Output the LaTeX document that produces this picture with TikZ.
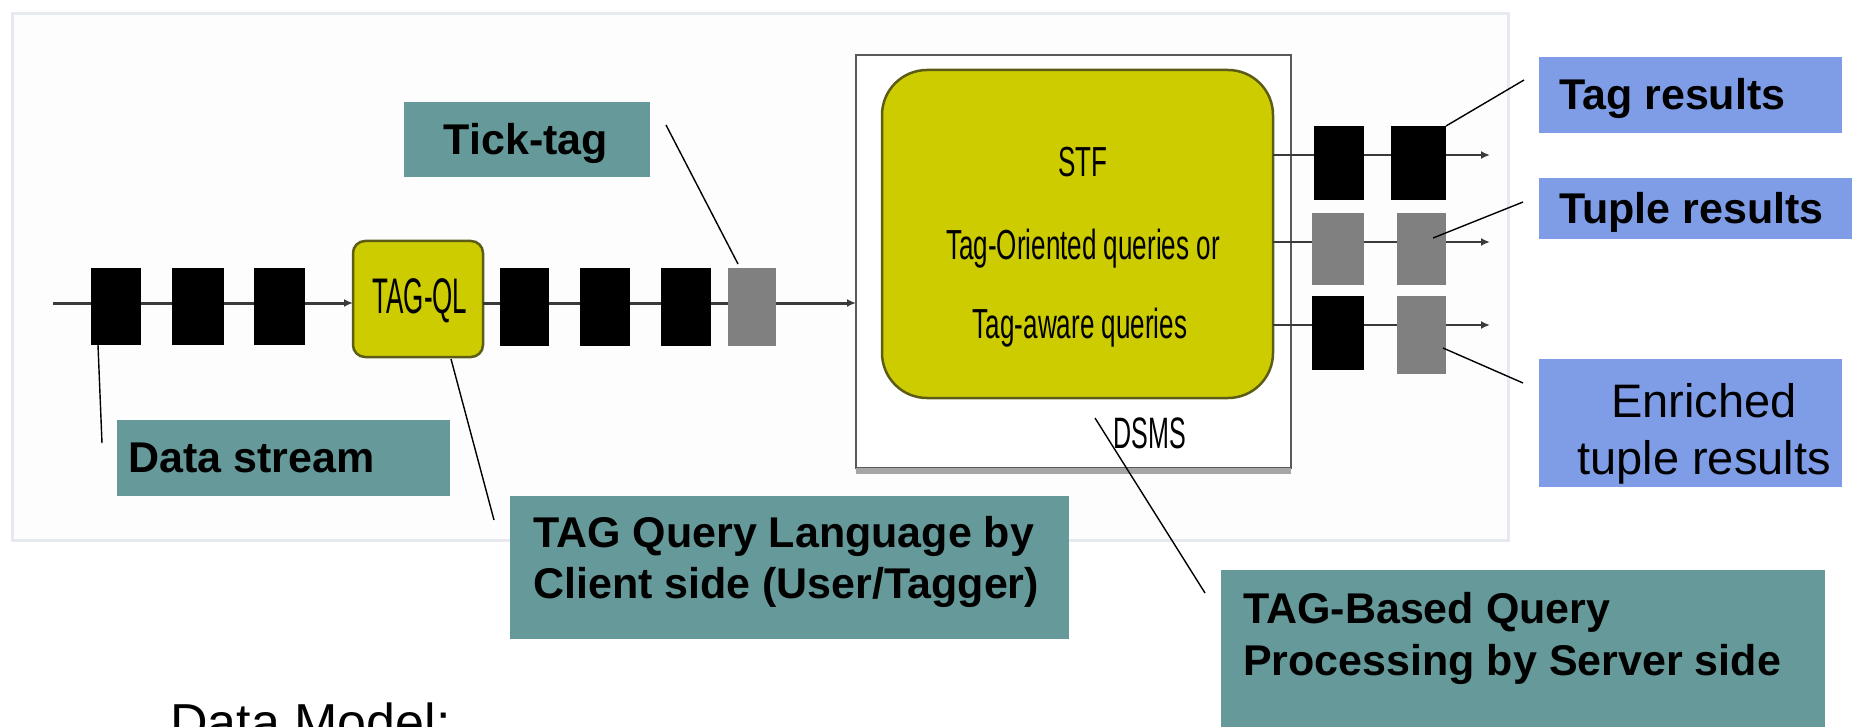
\documentclass[tikz,border=0pt]{standalone}
\usepackage{fontspec}
\setmainfont{Liberation Sans}
\usepackage{graphicx}
\usetikzlibrary{arrows.meta,calc}
\definecolor{tealbox}{HTML}{669999}
\definecolor{bluebox}{HTML}{7F9DE6}
\definecolor{yel}{HTML}{CCCC00}
\definecolor{olivedark}{HTML}{5C5C14}
\definecolor{pktgray}{HTML}{808080}
\definecolor{panelfill}{HTML}{FDFDFE}
\definecolor{paneledge}{HTML}{E6EAF0}
\definecolor{streamcol}{HTML}{3A3A3A}
\newcommand\rbox[6]{\node[#6, minimum width={#4-#2}, minimum height={#5-#3}] (#1) at ({(#2+#4)/2},{(#3+#5)/2}) {};}
\begin{document}
\begin{tikzpicture}[x=1pt,y=-1pt,
  plain/.style={rectangle, inner sep=0pt, outer sep=0pt},
  blackpkt/.style={plain, fill=black},
  graypkt/.style={plain, fill=pktgray},
  tealrect/.style={plain, fill=tealbox},
  bluerect/.style={plain, fill=bluebox},
  yelbox/.style={plain, fill=yel, draw=olivedark, line width=2.5pt},
  streamline/.style={draw=streamcol, line width=3pt, -{Latex[length=9pt,width=8pt]}},
  pointer/.style={draw=black, line width=1.4pt},
  lbl/.style={inner sep=0pt, font=\fontsize{43}{51}\selectfont\bfseries, anchor=base west},
  narrowtxt/.style={inner sep=0pt, anchor=base},
]
\useasboundingbox (0,0) rectangle (1852,727);
\clip (0,0) rectangle (1852,727);
% background panel
\rbox{panel}{12}{14}{1508}{540}{plain, fill=panelfill, draw=paneledge, line width=3pt}
% DSMS box
\rbox{dsms}{856}{55}{1291}{468}{plain, fill=white, draw=black!65, line width=1.8pt}
\draw[line width=6pt, draw=black!35] ($(dsms.south west)+(0,3)$) -- ($(dsms.south east)+(0,3)$);
% stream
\coordinate (s0) at (53,303);
\rbox{ql}{353}{241}{483}{357}{yelbox, rounded corners=12pt}
\draw[streamline] (s0) -- (s0 -| ql.west);
\draw[streamline] (s0 -| ql.east) -- (s0 -| dsms.west);
\node[narrowtxt] (qltxt) at (420,313) {\fontsize{50}{50}\selectfont\scalebox{0.52}[1]{TAG-QL}};
% packets
\rbox{p1}{91}{268}{141}{345}{blackpkt}
\rbox{p2}{172}{268}{224}{345}{blackpkt}
\rbox{p3}{254}{268}{305}{345}{blackpkt}
\rbox{p4}{500}{268}{549}{346}{blackpkt}
\rbox{p5}{580}{268}{630}{346}{blackpkt}
\rbox{p6}{661}{268}{711}{346}{blackpkt}
\rbox{g1}{728}{268}{776}{346}{graypkt}
% STF box
\rbox{stf}{882}{70}{1273}{398}{yelbox, rounded corners=45pt}
\node[narrowtxt] (stf1) at (1083,177) {\fontsize{42}{42}\selectfont\scalebox{0.62}[1]{STF}};
\node[narrowtxt] (stf2) at (1083,260) {\fontsize{42}{42}\selectfont\scalebox{0.62}[1]{Tag-Oriented queries or}};
\node[narrowtxt] (stf3) at (1080,338) {\fontsize{42}{42}\selectfont\scalebox{0.62}[1]{Tag-aware queries}};
\node[narrowtxt] (dsmstxt) at (1150,448) {\fontsize{44}{44}\selectfont\scalebox{0.57}[1]{DSMS}};
% output lines
\coordinate (o1) at (1490,155);
\coordinate (o2) at (1490,242);
\coordinate (o3) at (1490,325);
\draw[streamline, line width=2.5pt] (o1 -| stf.east) -- (o1);
\draw[streamline, line width=2.5pt] (o2 -| stf.east) -- (o2);
\draw[streamline, line width=2.5pt] (o3 -| stf.east) -- (o3);
\rbox{r1a}{1314}{126}{1364}{200}{blackpkt}
\rbox{r1b}{1391}{126}{1446}{200}{blackpkt}
\rbox{r2a}{1312}{213}{1364}{285}{graypkt}
\rbox{r2b}{1397}{213}{1446}{285}{graypkt}
\rbox{r3a}{1312}{296}{1364}{370}{blackpkt}
\rbox{r3b}{1397}{296}{1446}{374}{graypkt}
% labels
\rbox{tickbox}{404}{102}{650}{177}{tealrect}
\node[lbl, anchor=base] (ticktxt) at (526,155) {Tick-tag};
\rbox{dsbox}{117}{420}{450}{496}{tealrect}
\node[lbl] (dstxt) at (128,472) {Data stream};
\rbox{qlbox}{510}{496}{1069}{639}{tealrect}
\node[lbl] (qlt1) at (533,547) {TAG Query Language by};
\node[lbl] (qlt2) at (533,598) {Client side (User/Tagger)};
\rbox{tbbox}{1221}{570}{1825}{727}{tealrect}
\node[lbl] (tbt1) at (1243,623) {TAG-Based Query};
\node[lbl] (tbt2) at (1243,675) {Processing by Server side};
\rbox{tagbox}{1539}{57}{1842}{133}{bluerect}
\node[lbl] (tagtxt) at (1559,110) {Tag results};
\rbox{tuplebox}{1539}{178}{1870}{239}{bluerect}
\node[lbl] (tupletxt) at (1559,224) {Tuple results};
\rbox{enbox}{1539}{359}{1842}{487}{bluerect}
\node[inner sep=0pt, anchor=base, font=\fontsize{47}{47}\selectfont] (en1) at (1704,417) {Enriched};
\node[inner sep=0pt, anchor=base, font=\fontsize{47}{47}\selectfont] (en2) at (1704,474) {tuple results};
\node[inner sep=0pt, anchor=base west, font=\fontsize{52}{52}\selectfont] (dm) at (170,740) {Data Model:};
% pointers
\coordinate (tickfrom) at (666,125);
\coordinate (tickto) at (738,264);
\draw[pointer] (tickfrom) -- (tickto);
\coordinate (dsfrom) at (98,345);
\coordinate (dsto) at (102,443);
\draw[pointer] (dsfrom) -- (dsto);
\coordinate (qlfrom) at (451,359);
\coordinate (qlto) at (494,520);
\draw[pointer] (qlfrom) -- (qlto);
\coordinate (dsmsfrom) at (1095,418);
\coordinate (dsmsto) at (1205,593);
\draw[pointer] (dsmsfrom) -- (dsmsto);
\coordinate (tagto) at (1524,80);
\draw[pointer] (r1b.north east) -- (tagto);
\coordinate (tuplefrom) at (1433,238);
\coordinate (tupleto) at (1523,202);
\draw[pointer] (tuplefrom) -- (tupleto);
\coordinate (enfrom) at (1443,348);
\coordinate (ento) at (1523,383);
\draw[pointer] (enfrom) -- (ento);
\end{tikzpicture}
\end{document}
